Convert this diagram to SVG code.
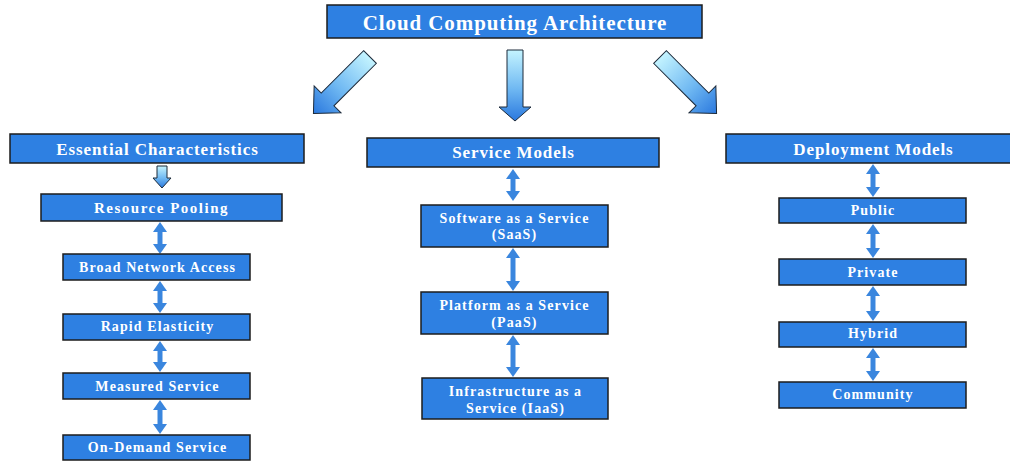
<svg xmlns="http://www.w3.org/2000/svg" width="1010" height="461" viewBox="0 0 1010 461">
<style>
.box{fill:#2E80E2;stroke:#1c1c1c;stroke-width:1.5}
.t{font-family:"Liberation Serif","Times New Roman",serif;font-weight:bold;fill:#fff;text-anchor:middle;font-size:14px;letter-spacing:1.1px}
.h{font-size:17px;letter-spacing:0.9px}
.dbl{stroke:#3A86DE;stroke-width:5;fill:none;marker-start:url(#ah);marker-end:url(#ah)}
.blk{fill:url(#grad);stroke:#1c2a3a;stroke-width:1}
</style>
<defs>
<linearGradient id="grad" x1="0" y1="0" x2="0" y2="1">
<stop offset="0" stop-color="#C4F4FF"/>
<stop offset="0.55" stop-color="#6FB8F2"/>
<stop offset="1" stop-color="#2A78DE"/>
</linearGradient>
<marker id="ah" viewBox="0 0 10 14" refX="1" refY="7" markerWidth="10" markerHeight="14" markerUnits="userSpaceOnUse" orient="auto-start-reverse">
<path d="M0,0 L10,7 L0,14 z" fill="#3A86DE"/>
</marker>
</defs>
<rect width="1010" height="461" fill="#fff"/>

<g id="connectors">
<g transform="translate(370,57) rotate(45)"><polygon class="blk" points="-9,0 9,0 9,60 19,60 0,80 -19,60 -9,60"/></g>
<polygon class="blk" points="507,50 523,50 523,107 531,107 515,121 499,107 507,107"/>
<g transform="translate(660,57) rotate(-45)"><polygon class="blk" points="-9,0 9,0 9,60 19,60 0,80 -19,60 -9,60"/></g>
<polygon class="blk" points="157,166 167,166 167,178 171,178 162,188 153,178 157,178"/>
<line class="dbl" x1="160" y1="231" x2="160" y2="245"/>
<line class="dbl" x1="160" y1="290" x2="160" y2="304"/>
<line class="dbl" x1="160" y1="350" x2="160" y2="363"/>
<line class="dbl" x1="160" y1="409" x2="160" y2="425"/>
<line class="dbl" x1="513" y1="178" x2="513" y2="192"/>
<line class="dbl" x1="513" y1="257" x2="513" y2="282"/>
<line class="dbl" x1="513" y1="344" x2="513" y2="368"/>
<line class="dbl" x1="873" y1="173" x2="873" y2="188"/>
<line class="dbl" x1="873" y1="233" x2="873" y2="249"/>
<line class="dbl" x1="873" y1="295" x2="873" y2="312"/>
<line class="dbl" x1="873" y1="357" x2="873" y2="372"/>
</g>

<g id="root"><rect class="box" x="327" y="5" width="375" height="33"/><text class="t" x="515" y="30" style="font-size:21px;letter-spacing:0.9px">Cloud Computing Architecture</text></g>

<g id="essential"><rect class="box" x="10" y="134" width="294" height="29"/><text class="t h" x="157.5" y="155">Essential Characteristics</text></g>
<g id="resource-pooling"><rect class="box" x="41" y="194" width="241" height="27"/><text class="t" x="161.5" y="213" style="font-size:15px;letter-spacing:1.5px">Resource Pooling</text></g>
<g id="broad-network"><rect class="box" x="63" y="254" width="187" height="26"/><text class="t" x="157.5" y="272">Broad Network Access</text></g>
<g id="rapid-elasticity"><rect class="box" x="63" y="314" width="187" height="26"/><text class="t" x="157.5" y="331">Rapid Elasticity</text></g>
<g id="measured-service"><rect class="box" x="63" y="373" width="187" height="26"/><text class="t" x="157.5" y="391">Measured Service</text></g>
<g id="on-demand"><rect class="box" x="63" y="435" width="187" height="25"/><text class="t" x="157.5" y="452">On-Demand Service</text></g>

<g id="service-models"><rect class="box" x="367" y="138" width="292" height="29"/><text class="t h" x="513.5" y="158">Service Models</text></g>
<g id="saas"><rect class="box" x="421" y="205" width="187" height="42"/><text class="t" x="514.5" y="223">Software as a Service</text><text class="t" x="514.5" y="239">(SaaS)</text></g>
<g id="paas"><rect class="box" x="421" y="292" width="187" height="42"/><text class="t" x="514.5" y="310">Platform as a Service</text><text class="t" x="514.5" y="327">(PaaS)</text></g>
<g id="iaas"><rect class="box" x="422" y="378" width="186" height="41"/><text class="t" x="515.5" y="396">Infrastructure as a</text><text class="t" x="515.5" y="413">Service (IaaS)</text></g>

<g id="deployment-models"><rect class="box" x="726" y="134" width="290" height="29"/><text class="t h" x="873.5" y="155">Deployment Models</text></g>
<g id="public"><rect class="box" x="779" y="198" width="187" height="25"/><text class="t" x="873" y="215">Public</text></g>
<g id="private"><rect class="box" x="779" y="259" width="187" height="26"/><text class="t" x="873" y="277">Private</text></g>
<g id="hybrid"><rect class="box" x="779" y="322" width="187" height="25"/><text class="t" x="873" y="338">Hybrid</text></g>
<g id="community"><rect class="box" x="779" y="382" width="187" height="26"/><text class="t" x="873" y="399">Community</text></g>
</svg>
